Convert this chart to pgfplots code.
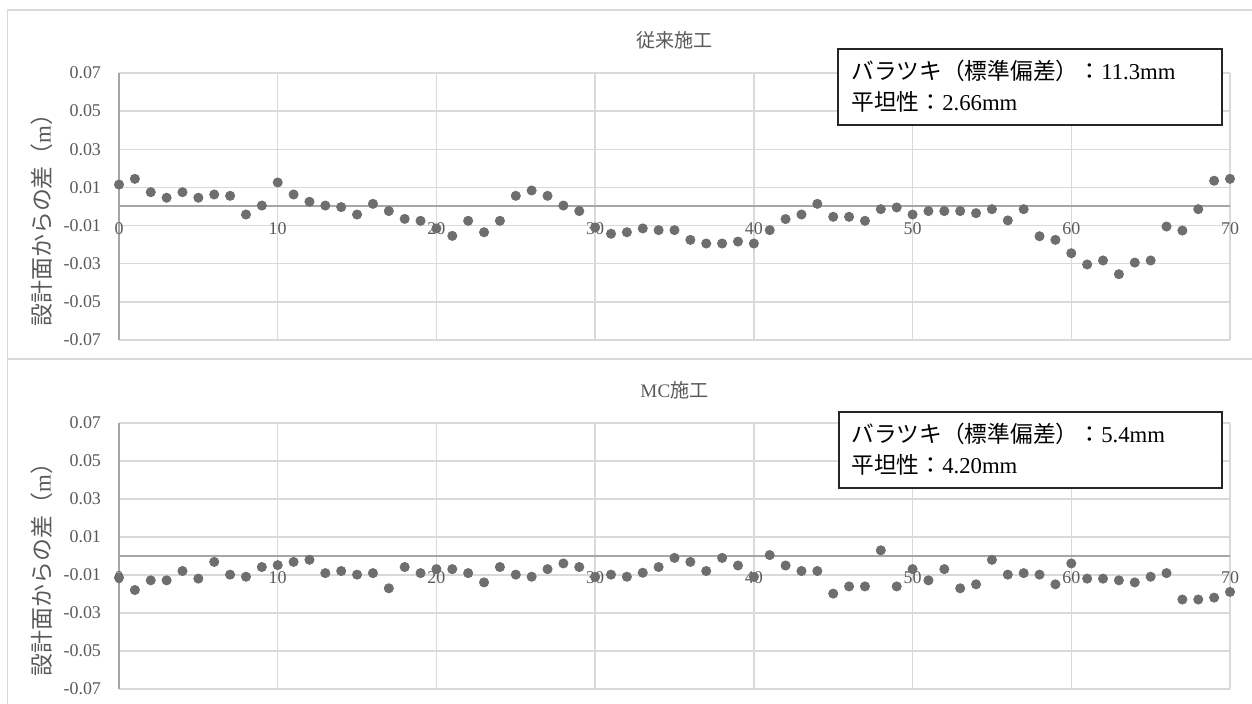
\documentclass[border=0pt]{standalone}
\usepackage{fontspec}
\setmainfont{Liberation Serif}
\newfontfamily\cjk{Noto Sans CJK JP}
\usepackage{pgfplots}
\pgfplotsset{compat=1.18}
\definecolor{gridgray}{HTML}{D9D9D9}
\definecolor{axisgray}{HTML}{A6A6A6}
\definecolor{dotgray}{HTML}{6E6E6E}
\definecolor{textgray}{HTML}{595959}
\definecolor{bordergray}{HTML}{D9D9D9}

\pgfplotstableread{
x y
0 0.0115
1 0.0145
2 0.0075
3 0.0046
4 0.0075
5 0.0046
6 0.0063
7 0.0056
8 -0.0042
9 0.0005
10 0.0126
11 0.0063
12 0.0025
13 0.0005
14 -0.0003
15 -0.0042
16 0.0014
17 -0.0024
18 -0.0065
19 -0.0075
20 -0.0115
21 -0.0154
22 -0.0075
23 -0.0135
24 -0.0075
25 0.0056
26 0.0084
27 0.0056
28 0.0005
29 -0.0024
30 -0.0110
31 -0.0143
32 -0.0135
33 -0.0115
34 -0.0124
35 -0.0124
36 -0.0175
37 -0.0194
38 -0.0194
39 -0.0184
40 -0.0194
41 -0.0124
42 -0.0066
43 -0.0042
44 0.0014
45 -0.0054
46 -0.0054
47 -0.0075
48 -0.0014
49 -0.0005
50 -0.0042
51 -0.0024
52 -0.0024
53 -0.0024
54 -0.0035
55 -0.0014
56 -0.0073
57 -0.0014
58 -0.0156
59 -0.0175
60 -0.0245
61 -0.0304
62 -0.0283
63 -0.0355
64 -0.0294
65 -0.0283
66 -0.0105
67 -0.0126
68 -0.0014
69 0.0135
70 0.0145
}\conventional

\pgfplotstableread{
x y
0 -0.0114
1 -0.0179
2 -0.0128
3 -0.0128
4 -0.0079
5 -0.0119
6 -0.0031
7 -0.0098
8 -0.0109
9 -0.0058
10 -0.0048
11 -0.0031
12 -0.0020
13 -0.0090
14 -0.0079
15 -0.0098
16 -0.0090
17 -0.0170
18 -0.0058
19 -0.0090
20 -0.0069
21 -0.0069
22 -0.0090
23 -0.0139
24 -0.0058
25 -0.0098
26 -0.0109
27 -0.0069
28 -0.0039
29 -0.0058
30 -0.0110
31 -0.0098
32 -0.0109
33 -0.0088
34 -0.0058
35 -0.0010
36 -0.0031
37 -0.0079
38 -0.0010
39 -0.0050
40 -0.0110
41 0.0005
42 -0.0050
43 -0.0079
44 -0.0079
45 -0.0198
46 -0.0160
47 -0.0160
48 0.0030
49 -0.0160
50 -0.0069
51 -0.0128
52 -0.0069
53 -0.0170
54 -0.0149
55 -0.0020
56 -0.0098
57 -0.0090
58 -0.0098
59 -0.0149
60 -0.0039
61 -0.0119
62 -0.0119
63 -0.0128
64 -0.0139
65 -0.0109
66 -0.0090
67 -0.0229
68 -0.0229
69 -0.0219
70 -0.0189
}\mc

\pgfplotsset{
  panel/.style={
    scale only axis,
    width=555.5bp, height=133.5bp,
    anchor=south west,
    xmin=0, xmax=70, ymin=-0.07, ymax=0.07,
    axis x line=middle, axis y line=left,
    axis line style={-, draw=axisgray, line width=1bp},
    scaled ticks=false,
    xtick={0,10,20,30,40,50,60,70},
    xticklabels={0,10,20,30,40,50,60,70},
    ytick={-0.07,-0.05,-0.03,-0.01,0.01,0.03,0.05,0.07},
    yticklabels={-0.07,-0.05,-0.03,-0.01,0.01,0.03,0.05,0.07},
    major tick length=0pt,
    grid=major,
    major grid style={draw=gridgray, line width=0.75bp},
    tick label style={font=\fontsize{9}{10}\selectfont, text=textgray},
    xticklabel style={yshift=-4.5bp},
    yticklabel style={xshift=-5.5bp},
    hide obscured x ticks=false,
    hide obscured y ticks=false,
    clip=false,
    every axis y label/.style={at={(axis description cs:-0.0693,0.47)}, rotate=90, anchor=center,
      font=\fontsize{11.5}{13}\selectfont, text=textgray},
    ylabel={{\cjk 設計面からの差（}m{\cjk ）}},
  },
  dots/.style={only marks, mark=*, mark size=2.3bp, mark options={fill=dotgray, draw=dotgray}},
}

\begin{document}
\begin{tikzpicture}
\path[use as bounding box] (0,0) rectangle (626bp,-352bp);
\draw[bordergray, line width=0.75bp] (3.75bp,-5bp) rectangle (631bp,-179.5bp);
\draw[bordergray, line width=0.75bp] (3.75bp,-179.5bp) rectangle (631bp,-357bp);

\begin{axis}[panel, at={(59.5bp,-170bp)}]
\addplot[dots] table[x=x, y=y] {\conventional};
\end{axis}
\node[text=textgray, font=\fontsize{9.6}{11}\selectfont\cjk] at (337.25bp,-20bp) {従来施工};
\draw[black!85, line width=0.6bp, fill=white] (419bp,-24.5bp) rectangle (611bp,-62.5bp);
\node[anchor=west, font=\fontsize{11.4}{12}\selectfont, inner sep=0pt] at (425.5bp,-35.5bp) {{\cjk バラツキ（標準偏差）：}11.3mm};
\node[anchor=west, font=\fontsize{11.4}{12}\selectfont, inner sep=0pt] at (425.5bp,-51bp) {{\cjk 平坦性：}2.66mm};

\begin{axis}[panel, at={(59.5bp,-344.5bp)}, height=133bp]
\addplot[dots] table[x=x, y=y] {\mc};
\end{axis}
\node[text=textgray, font=\fontsize{9.6}{11}\selectfont] at (337.25bp,-195bp) {MC{\cjk 施工}};
\draw[black!85, line width=0.6bp, fill=white] (419.5bp,-206bp) rectangle (611bp,-244bp);
\node[anchor=west, font=\fontsize{11.4}{12}\selectfont, inner sep=0pt] at (425.5bp,-217bp) {{\cjk バラツキ（標準偏差）：}5.4mm};
\node[anchor=west, font=\fontsize{11.4}{12}\selectfont, inner sep=0pt] at (425.5bp,-232.5bp) {{\cjk 平坦性：}4.20mm};
\end{tikzpicture}
\end{document}
